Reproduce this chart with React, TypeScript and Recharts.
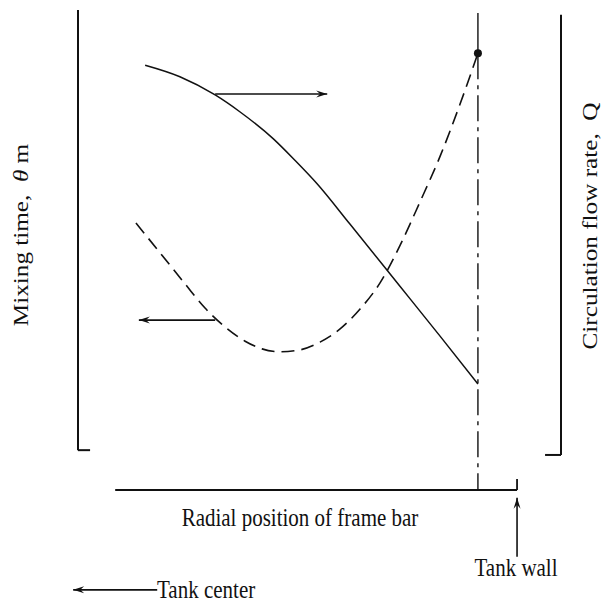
import { LineChart, Line, XAxis, YAxis, ReferenceLine, ReferenceDot } from 'recharts'

// radial position (0-100 across the frame) vs. relative level (0-100)
const thetaX = [12.0, 17.0, 22.2, 26.3, 30.4, 34.6, 38.1, 41.8, 46.0, 50.1, 54.2, 58.4, 62.5, 66.7, 70.8, 75.0, 79.1, 82.8]
const thetaY = [55.6, 49.4, 42.9, 37.9, 34.0, 31.0, 29.4, 28.8, 29.2, 30.8, 33.5, 37.7, 43.1, 51.0, 60.0, 69.6, 80.4, 91.0]
const flowX = [13.9, 21.1, 28.4, 33.5, 40.4, 44.9, 49.5, 56.3, 66.7, 75.0, 82.8]
const flowY = [88.5, 86.1, 82.3, 78.8, 73.2, 68.7, 63.8, 55.4, 42.4, 32.0, 22.1]

const barPos = 82.8 // frame bar tip
const wallPos = 90.9 // tank wall

const thetaData = thetaX.map((x, i) => ({ x, theta: thetaY[i] }))
const flowData = flowX.map((x, i) => ({ x, q: flowY[i] }))

const FONT = '"Liberation Serif", "Times New Roman", serif'
const INK = '#111'

// line with a small arrowhead at (x2, y2)
function ArrowLine(props: any) {
  const { x1, y1, x2, y2 } = props
  const a = Math.atan2(y2 - y1, x2 - x1)
  const len = 11
  const w = 3.5
  const bx = x2 - len * Math.cos(a)
  const by = y2 - len * Math.sin(a)
  const px = -Math.sin(a) * w
  const py = Math.cos(a) * w
  return (
    <g>
      <line x1={x1} y1={y1} x2={x2} y2={y2} stroke={INK} strokeWidth={1.6} />
      <path d={`M${x2},${y2} L${bx + px},${by + py} L${bx + 0.35 * len * Math.cos(a)},${by + 0.35 * len * Math.sin(a)} L${bx - px},${by - py} Z`} fill={INK} />
    </g>
  )
}

function Txt({ x, y, rot, children, anchor = 'start' }: { x: number; y: number; rot?: boolean; children: any; anchor?: string }) {
  const t = rot ? `translate(${x},${y}) rotate(-90) scale(1.2,1)` : `translate(${x},${y}) scale(1,1.2)`
  return (
    <text transform={t} textAnchor={anchor} fontFamily={FONT} fontSize={21} fill={INK} style={{ whiteSpace: 'pre' }}>
      {children}
    </text>
  )
}

export default function App() {
  return (
    <div style={{ position: 'absolute', left: 0, top: 0, background: '#fff' }}>
      <LineChart width={606} height={602} margin={{ top: 10, right: 45, bottom: 112, left: 78 }}>
        <XAxis type="number" dataKey="x" domain={[0, 100]} hide allowDataOverflow />
        <YAxis yAxisId="theta" type="number" domain={[0, 100]} hide allowDataOverflow />
        <YAxis yAxisId="q" orientation="right" type="number" domain={[0, 100]} hide allowDataOverflow />

        {/* frame: left and right axes with feet, baseline, frame-bar line */}
        <ReferenceLine yAxisId="theta" segment={[{ x: 0, y: 100 }, { x: 0, y: 8.3 }]} stroke={INK} strokeWidth={2} ifOverflow="visible" />
        <ReferenceLine yAxisId="theta" segment={[{ x: 0, y: 8.3 }, { x: 2.5, y: 8.3 }]} stroke={INK} strokeWidth={2} ifOverflow="visible" />
        <ReferenceLine yAxisId="theta" segment={[{ x: 100, y: 99 }, { x: 100, y: 7.3 }]} stroke={INK} strokeWidth={2} ifOverflow="visible" />
        <ReferenceLine yAxisId="theta" segment={[{ x: 96.7, y: 7.3 }, { x: 100, y: 7.3 }]} stroke={INK} strokeWidth={2} ifOverflow="visible" />
        <ReferenceLine yAxisId="theta" segment={[{ x: 7.7, y: 0 }, { x: wallPos, y: 0 }]} stroke={INK} strokeWidth={1.8} ifOverflow="visible" />
        <ReferenceLine yAxisId="theta" segment={[{ x: wallPos, y: 0 }, { x: wallPos, y: 2.3 }]} stroke={INK} strokeWidth={1.8} ifOverflow="visible" />
        <ReferenceLine yAxisId="theta" segment={[{ x: barPos, y: 99.4 }, { x: barPos, y: 91 }]} stroke={INK} strokeWidth={1.4} ifOverflow="visible" />
        <ReferenceLine yAxisId="theta" segment={[{ x: barPos, y: 91 }, { x: barPos, y: 0 }]} stroke={INK} strokeWidth={1.4} strokeDasharray="26 6 4 6" ifOverflow="visible" />

        {/* direction arrows */}
        <ReferenceLine yAxisId="theta" segment={[{ x: 28.4, y: 82.5 }, { x: 51.6, y: 82.5 }]} shape={ArrowLine} ifOverflow="visible" />
        <ReferenceLine yAxisId="theta" segment={[{ x: 28.4, y: 35.4 }, { x: 12.6, y: 35.4 }]} shape={ArrowLine} ifOverflow="visible" />
        <ReferenceLine yAxisId="theta" segment={[{ x: wallPos, y: -13.9 }, { x: wallPos, y: -1.6 }]} shape={ArrowLine} ifOverflow="visible" />
        <ReferenceLine yAxisId="theta" segment={[{ x: 16.4, y: -20.8 }, { x: -1, y: -20.8 }]} shape={ArrowLine} ifOverflow="visible" />

        <Line data={flowData} yAxisId="q" dataKey="q" type="monotone" stroke={INK} strokeWidth={1.5} dot={false} isAnimationActive={false} />
        <Line data={thetaData} yAxisId="theta" dataKey="theta" type="monotone" stroke={INK} strokeWidth={1.6} strokeDasharray="13 7" dot={false} isAnimationActive={false} />
        <ReferenceDot yAxisId="theta" x={barPos} y={91} r={4} fill={INK} stroke="none" />

        <Txt x={28} y={235} rot anchor="middle">
          {'Mixing time,  '}
          <tspan fontStyle="italic">θ</tspan>
          {' m'}
        </Txt>
        <Txt x={597} y={226} rot anchor="middle">Circulation flow rate,  Q</Txt>
        <Txt x={300} y={526} anchor="middle">Radial position of frame bar</Txt>
        <Txt x={516} y={576} anchor="middle">Tank wall</Txt>
        <Txt x={157} y={598}>Tank center</Txt>
      </LineChart>
    </div>
  )
}
